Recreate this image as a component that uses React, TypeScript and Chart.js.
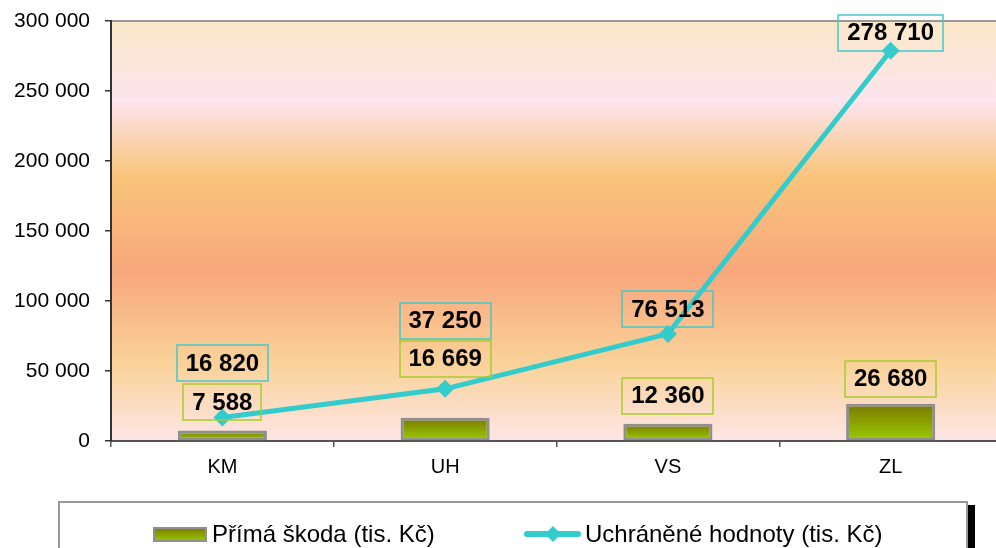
import React, { useEffect, useRef } from "react";
import { Chart, registerables } from "chart.js";

Chart.register(...registerables);

const categories = ["KM", "UH", "VS", "ZL"];
const directDamage = [7588, 16669, 12360, 26680];
const savedValues = [16820, 37250, 76513, 278710];
const seriesNames = ["Přímá škoda (tis. Kč)", "Uchráněné hodnoty (tis. Kč)"];
const yMin = 0;
const yMax = 300000;
const yStep = 50000;

// pixel offsets of the data-label boxes relative to their marks
const barLabelOffsets = [-28, -59, -28, -25];
const lineLabelOffsets = [-54, -68, -25, -18];

const FONT = '"Liberation Sans", Arial, sans-serif';
const LINE_COLOR = "#33CCCC";

const fmt = (v: number) => String(v).replace(/\B(?=(\d{3})+(?!\d))/g, " ");

function barGradient(ctx: CanvasRenderingContext2D, top: number, bottom: number) {
  const g = ctx.createLinearGradient(0, top, 0, bottom);
  g.addColorStop(0, "#7A7800");
  g.addColorStop(1, "#99CC00");
  return g;
}

const bgPlugin = {
  id: "bgPlugin",
  beforeDraw(chart: any) {
    const { ctx, chartArea: a } = chart;
    if (!a) return;
    const g = ctx.createLinearGradient(0, a.top, 0, a.bottom);
    g.addColorStop(0, "#FBE8C8");
    g.addColorStop(0.19, "#FDE4EE");
    g.addColorStop(0.37, "#F9C47A");
    g.addColorStop(0.6, "#F8A77C");
    g.addColorStop(0.82, "#FAD39A");
    g.addColorStop(1, "#FDE5E6");
    ctx.save();
    ctx.fillStyle = g;
    ctx.fillRect(a.left, a.top, a.right - a.left, a.bottom - a.top);
    ctx.strokeStyle = "#999999";
    ctx.lineWidth = 2;
    ctx.beginPath();
    ctx.moveTo(a.left, a.top);
    ctx.lineTo(a.right, a.top);
    ctx.stroke();
    ctx.restore();
  },
};

function drawLabelBox(ctx: CanvasRenderingContext2D, text: string, cx: number, cy: number, border: string) {
  ctx.font = `bold 24px ${FONT}`;
  const w = Math.round(ctx.measureText(text).width + 18);
  const h = 36;
  ctx.strokeStyle = border;
  ctx.lineWidth = 1.5;
  ctx.strokeRect(Math.round(cx - w / 2), Math.round(cy - h / 2), w, h);
  ctx.fillStyle = "#000";
  ctx.textAlign = "center";
  ctx.textBaseline = "middle";
  ctx.fillText(text, cx, cy + 1);
}

const labelPlugin = {
  id: "labelPlugin",
  afterDatasetsDraw(chart: any) {
    const { ctx } = chart;
    const barMeta = chart.getDatasetMeta(0);
    const lineMeta = chart.getDatasetMeta(1);
    ctx.save();
    barMeta.data.forEach((el: any, i: number) => {
      drawLabelBox(ctx, fmt(directDamage[i]), el.x, el.y + barLabelOffsets[i], "#A8CC2C");
    });
    lineMeta.data.forEach((el: any, i: number) => {
      drawLabelBox(ctx, fmt(savedValues[i]), el.x, el.y + lineLabelOffsets[i], "#44C8CA");
    });
    ctx.restore();
  },
};

const legendPlugin = {
  id: "legendPlugin",
  afterDraw(chart: any) {
    const { ctx } = chart;
    ctx.save();
    // shadow
    ctx.fillStyle = "#000";
    ctx.fillRect(968, 505, 7, 60);
    // box
    ctx.fillStyle = "#fff";
    ctx.fillRect(59, 502, 908, 60);
    ctx.strokeStyle = "#999999";
    ctx.lineWidth = 2;
    ctx.strokeRect(59, 502, 908, 60);
    // bar swatch
    ctx.fillStyle = barGradient(ctx, 527, 542);
    ctx.fillRect(153, 527, 54, 15);
    ctx.strokeStyle = "#8F8F8F";
    ctx.lineWidth = 2;
    ctx.strokeRect(154, 528, 52, 13);
    ctx.font = `24px ${FONT}`;
    ctx.fillStyle = "#000";
    ctx.textAlign = "left";
    ctx.textBaseline = "middle";
    ctx.fillText(seriesNames[0], 212, 535);
    // line swatch
    ctx.strokeStyle = LINE_COLOR;
    ctx.lineWidth = 6;
    ctx.lineCap = "round";
    ctx.beginPath();
    ctx.moveTo(527, 534);
    ctx.lineTo(578, 534);
    ctx.stroke();
    ctx.fillStyle = LINE_COLOR;
    ctx.beginPath();
    ctx.moveTo(553, 526);
    ctx.lineTo(561, 534);
    ctx.lineTo(553, 542);
    ctx.lineTo(545, 534);
    ctx.closePath();
    ctx.fill();
    ctx.fillStyle = "#000";
    ctx.fillText(seriesNames[1], 585, 535);
    ctx.restore();
  },
};

export default function App() {
  const ref = useRef<HTMLCanvasElement | null>(null);

  useEffect(() => {
    if (!ref.current) return;
    Chart.defaults.font.family = FONT;
    const chart = new Chart(ref.current, {
      type: "bar",
      data: {
        labels: categories,
        datasets: [
          {
            type: "bar",
            label: seriesNames[0],
            data: directDamage,
            order: 1,
            backgroundColor: (c: any) => {
              const ch = c.chart;
              if (!ch.chartArea || c.type !== "data") return "#8DB000";
              const ys = ch.scales.y;
              return barGradient(ch.ctx, ys.getPixelForValue(c.raw), ys.getPixelForValue(0));
            },
            borderColor: "#8F8F8F",
            borderWidth: 3,
            borderSkipped: false,
            barPercentage: 0.4,
            categoryPercentage: 1,
          },
          {
            type: "line",
            label: seriesNames[1],
            data: savedValues,
            order: 0,
            borderColor: LINE_COLOR,
            backgroundColor: LINE_COLOR,
            borderWidth: 5,
            pointStyle: "rectRot",
            pointRadius: 9,
            pointBorderWidth: 0,
            pointBackgroundColor: LINE_COLOR,
            tension: 0,
            clip: false as any,
          },
        ],
      } as any,
      options: {
        animation: false,
        responsive: false,
        events: [],
        layout: { padding: { top: 21, left: 0, right: 0, bottom: 0 } },
        plugins: {
          legend: { display: false },
          tooltip: { enabled: false },
        },
        scales: {
          x: {
            type: "category",
            offset: true,
            grid: {
              offset: true,
              drawOnChartArea: false,
              drawTicks: true,
              tickLength: 6,
              color: "#555555",
              lineWidth: 1.5,
            },
            border: { display: true, color: "#555555", width: 2 },
            ticks: { color: "#000", font: { size: 20 }, padding: 8 },
            afterFit: (s: any) => {
              s.height = 107;
              s.paddingLeft = 0;
              s.paddingRight = 0;
            },
          },
          y: {
            min: yMin,
            max: yMax,
            grid: {
              drawOnChartArea: false,
              drawTicks: true,
              tickLength: 6,
              color: "#333333",
              lineWidth: 1.5,
            },
            border: { display: true, color: "#333333", width: 2 },
            ticks: {
              stepSize: yStep,
              color: "#000",
              font: { size: 21 },
              padding: 15,
              callback: (v: any) => fmt(Number(v)),
            },
            afterFit: (s: any) => {
              s.width = 111;
              s.paddingTop = 0;
              s.paddingBottom = 0;
            },
          },
        },
      } as any,
      plugins: [bgPlugin, labelPlugin, legendPlugin],
    });
    return () => chart.destroy();
  }, []);

  return (
    <div
      style={{
        position: "fixed",
        left: 0,
        top: 0,
        width: 996,
        height: 548,
        overflow: "hidden",
        background: "#fff",
      }}
    >
      <canvas ref={ref} width={1011} height={548} style={{ display: "block", width: 1011, height: 548 }} />
    </div>
  );
}
